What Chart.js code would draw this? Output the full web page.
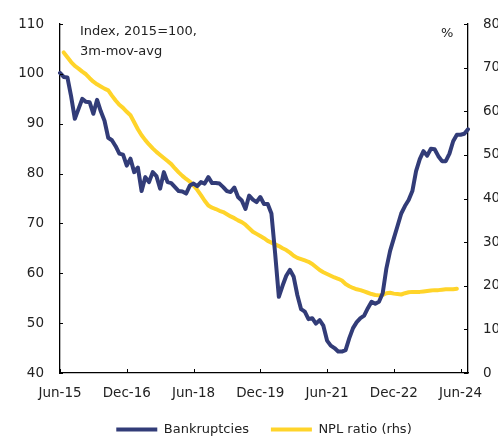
<!DOCTYPE html>
<html>
<head>
<meta charset="utf-8">
<script src="https://cdn.jsdelivr.net/npm/chart.js@4"></script>
<style>
  html, body { margin: 0; padding: 0; background: #fff; }
  #wrap { width: 498px; height: 439px; }
</style>
</head>
<body>
<div id="wrap"><canvas id="chart" width="498" height="439"></canvas></div>
<script>
// monthly, Jun-15 .. Aug-24
const startYear = 2015;
const startMonth = 5; // June
const monthCount = 111;
const tickEvery = 18;

const bankruptcies = [
  100.2, 99.4, 99.3, 95.5, 91.0, 93.0, 95.0, 94.4, 94.3, 92.0,
  94.8, 92.5, 90.6, 87.2, 86.7, 85.5, 84.0, 83.8, 81.6, 83.0,
  80.3, 81.2, 76.5, 79.3, 78.3, 80.3, 79.5, 77.0, 80.3, 78.3,
  78.1, 77.3, 76.5, 76.4, 76.0, 77.6, 78.0, 77.5, 78.3, 78.0,
  79.3, 78.1, 78.1, 78.0, 77.3, 76.5, 76.3, 77.2, 75.3, 74.6,
  72.9, 75.6, 74.8, 74.3, 75.3, 73.9, 73.9, 72.0, 64.0, 55.3,
  57.5, 59.5, 60.7, 59.3, 55.6, 52.8, 52.3, 50.8, 51.0, 49.9,
  50.6, 49.5, 46.5, 45.5, 45.0, 44.3, 44.3, 44.6, 47.0, 49.0,
  50.2, 51.0, 51.5, 53.0, 54.3, 53.9, 54.3, 56.0, 61.0, 64.5,
  67.0, 69.5, 72.0, 73.5, 74.7, 76.5, 80.5, 82.9, 84.5, 83.6,
  85.0, 84.9, 83.5, 82.5, 82.5, 84.0, 86.5, 87.8, 87.8, 88.0,
  88.9
];

const nplRatio = [
  null, 73.5, 72.4, 71.3, 70.4, 69.8, 69.1, 68.5, 67.6, 66.8,
  66.2, 65.7, 65.2, 64.8, 63.6, 62.5, 61.5, 60.8, 59.9, 59.1,
  57.5, 55.9, 54.5, 53.4, 52.4, 51.5, 50.7, 50.0, 49.3, 48.6,
  47.9, 46.9, 46.0, 45.2, 44.5, 43.9, 43.0, 42.0, 40.8, 39.5,
  38.4, 37.9, 37.6, 37.2, 36.9, 36.4, 35.9, 35.5, 35.0, 34.6,
  34.0, 33.2, 32.4, 31.9, 31.4, 30.9, 30.3, 29.9, 29.5, 29.1,
  28.6, 28.2, 27.6, 26.9, 26.4, 26.1, 25.8, 25.5, 25.0, 24.3,
  23.6, 23.1, 22.7, 22.3, 21.9, 21.6, 21.2, 20.4, 19.9, 19.5,
  19.2, 19.0, 18.7, 18.4, 18.1, 17.9, 17.8, 17.9, 18.3, 18.4,
  18.2, 18.1, 18.0, 18.3, 18.5, 18.6, 18.6, 18.6, 18.7, 18.8,
  18.9, 19.0, 19.0, 19.1, 19.2, 19.2, 19.2, 19.3
];

const monthNames = ['Jan','Feb','Mar','Apr','May','Jun','Jul','Aug','Sep','Oct','Nov','Dec'];
const labels = [];
for (let i = 0; i < monthCount; i++) {
  const m = (startMonth + i) % 12;
  const y = startYear + Math.floor((startMonth + i) / 12);
  labels.push(monthNames[m] + '-' + String(y).slice(2));
}

const BLUE = '#323c78';
const YELLOW = '#ffd42a';
const TEXT = '#222';
const FONT = 'DejaVu Sans';

// short tick marks pointing into the plot, plus the two text notes
const extras = {
  id: 'extras',
  afterDraw(chart) {
    const ctx = chart.ctx;
    const { x, y, y2 } = chart.scales;
    const area = chart.chartArea;
    ctx.save();
    ctx.strokeStyle = '#000';
    ctx.lineWidth = 1;
    ctx.beginPath();
    for (let i = 0; i < labels.length; i += tickEvery) {
      const px = Math.round(x.getPixelForValue(i)) + 0.5;
      ctx.moveTo(px, area.bottom);
      ctx.lineTo(px, area.bottom - 4);
    }
    y.ticks.forEach(t => {
      const py = Math.round(y.getPixelForValue(t.value)) + 0.5;
      ctx.moveTo(area.left, py);
      ctx.lineTo(area.left + 3, py);
    });
    y2.ticks.forEach(t => {
      const py = Math.round(y2.getPixelForValue(t.value)) + 0.5;
      ctx.moveTo(area.right, py);
      ctx.lineTo(area.right - 4, py);
    });
    ctx.stroke();

    ctx.fillStyle = TEXT;
    ctx.font = '13px "' + FONT + '"';
    ctx.textBaseline = 'alphabetic';
    ctx.textAlign = 'left';
    ctx.fillText('Index, 2015=100,', 80, 35);
    ctx.fillText('3m-mov-avg', 80, 55);
    ctx.fillText('%', 441, 37);
    ctx.restore();
  }
};

const data = {
  labels: labels,
  datasets: [
    {
      label: 'Bankruptcies',
      data: bankruptcies,
      yAxisID: 'y',
      borderColor: BLUE,
      backgroundColor: BLUE,
      borderWidth: 4,
      borderCapStyle: 'round',
      borderJoinStyle: 'round',
      pointRadius: 0,
      tension: 0,
    },
    {
      label: 'NPL ratio (rhs)',
      data: nplRatio,
      yAxisID: 'y2',
      borderColor: YELLOW,
      backgroundColor: YELLOW,
      borderWidth: 4,
      borderCapStyle: 'round',
      borderJoinStyle: 'round',
      pointRadius: 0,
      tension: 0,
    },
  ],
};

const tickFont = { family: FONT, size: 13.5 };

const config = {
  type: 'line',
  data: data,
  plugins: [extras],
  options: {
    responsive: false,
    animation: false,
    layout: { padding: { top: 23, left: 0, right: 0, bottom: 0 } },
    plugins: {
      legend: {
        position: 'bottom',
        fullSize: false,
        maxHeight: 38,
        labels: {
          usePointStyle: true,
          pointStyle: 'line',
          pointStyleWidth: 41,
          boxHeight: 4,
          padding: 22,
          color: TEXT,
          font: { family: FONT, size: 13 },
        },
      },
      tooltip: { enabled: false },
    },
    scales: {
      x: {
        type: 'category',
        offset: false,
        grid: { display: false, drawTicks: false },
        border: { display: true, color: '#000', width: 1.3 },
        ticks: {
          autoSkip: false,
          maxRotation: 0,
          padding: 12,
          color: TEXT,
          font: tickFont,
          callback: (v, i) => (i % tickEvery === 0 ? labels[i] : null),
        },
        afterFit: (s) => { s.height = 28; },
      },
      y: {
        position: 'left',
        min: 40,
        max: 110,
        ticks: { stepSize: 10, padding: 16, color: TEXT, font: tickFont },
        grid: { display: false, drawTicks: false },
        border: { display: true, color: '#000', width: 1.3 },
        afterFit: (s) => { s.width = 60; },
      },
      y2: {
        position: 'right',
        min: 0,
        max: 80,
        ticks: { stepSize: 10, padding: 15, color: TEXT, font: tickFont },
        grid: { display: false, drawTicks: false },
        border: { display: true, color: '#000', width: 1.3 },
        afterFit: (s) => { s.width = 30; },
      },
    },
  },
};

new Chart(document.getElementById('chart'), config);
</script>
</body>
</html>
